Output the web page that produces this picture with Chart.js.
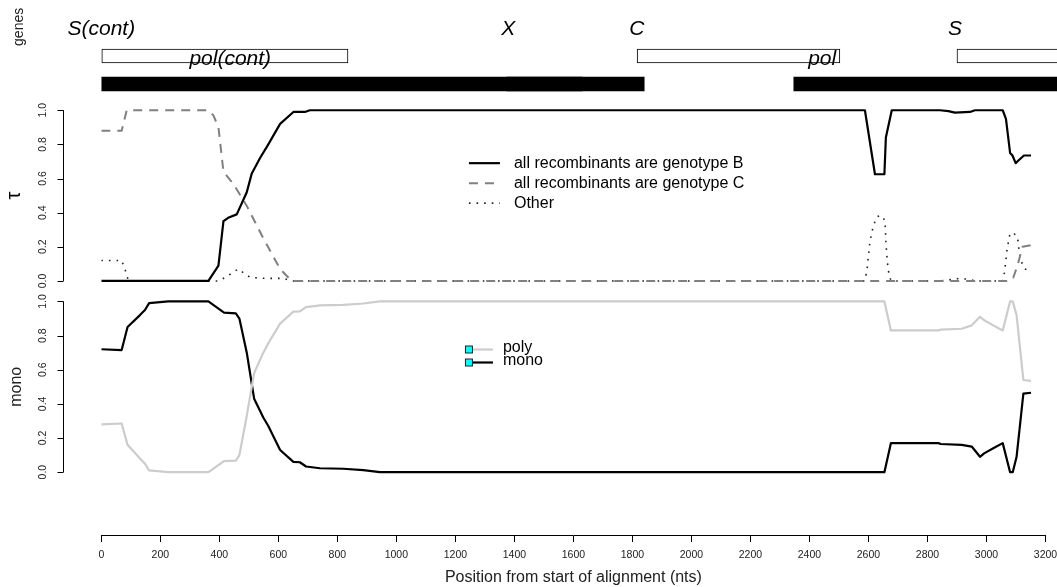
<!DOCTYPE html>
<html>
<head>
<meta charset="utf-8">
<script src="https://cdn.jsdelivr.net/npm/chart.js@4.4.1/dist/chart.umd.min.js"></script>
<style>
  html, body { margin: 0; padding: 0; background: #fff; }
  canvas { display: block; }
</style>
</head>
<body>
<canvas id="recombChart" width="1057" height="587"></canvas>
<script>
// axis ticks
const xTicks = [0, 200, 400, 600, 800, 1000, 1200, 1400, 1600, 1800, 2000, 2200, 2400, 2600, 2800, 3000, 3200];
const yTicks = [0, 0.2, 0.4, 0.6, 0.8, 1.0];

// tau panel: posterior for each recombinant class
const posB = [0, 363, 397, 414, 430, 459, 493, 510, 538, 566, 606, 651, 690, 707, 2588, 2622, 2654, 2659, 2679, 2842, 2871, 2893, 2944, 2961, 3055, 3066, 3080, 3088, 3099, 3111, 3127, 3151];
const tauB = [0, 0, 0.09, 0.35, 0.37, 0.39, 0.52, 0.63, 0.72, 0.80, 0.92, 0.99, 0.99, 1.0, 1.0, 0.625, 0.625, 0.84, 1.0, 1.0, 0.995, 0.986, 0.99, 1.0, 1.0, 0.95, 0.75, 0.735, 0.69, 0.71, 0.735, 0.735];

const posC = [0, 69, 86, 363, 380, 397, 414, 447, 493, 549, 606, 645, 3080, 3091, 3105, 3122, 3151];
const tauC = [0.88, 0.88, 1.0, 1.0, 0.97, 0.90, 0.64, 0.57, 0.44, 0.25, 0.07, 0, 0, 0.02, 0.09, 0.20, 0.21];

const posO = [0, 69, 84, 92, 363, 397, 420, 464, 505, 560, 617, 645, 2588, 2596, 2605, 2616, 2628, 2641, 2656, 2659, 2664, 2671, 2679, 2842, 2871, 2893, 2944, 2961, 3055, 3061, 3070, 3080, 3091, 3105, 3111, 3119, 3130, 3151];
const tauO = [0.12, 0.12, 0.05, 0, 0, 0, 0.02, 0.07, 0.02, 0.015, 0.015, 0, 0, 0.08, 0.23, 0.32, 0.375, 0.385, 0.355, 0.23, 0.11, 0.02, 0, 0, 0.005, 0.014, 0.01, 0, 0, 0.05, 0.19, 0.28, 0.28, 0.26, 0.17, 0.11, 0.07, 0.06];

// mono / poly panel
const posM = [0, 69, 89, 131, 148, 162, 227, 363, 416, 456, 468, 493, 518, 549, 566, 606, 651, 673, 694, 741, 820, 888, 944, 2654, 2676, 2837, 2845, 2916, 2950, 2978, 2992, 3023, 3055, 3080, 3089, 3102, 3125, 3151];
const mono = [0.72, 0.715, 0.85, 0.92, 0.95, 0.99, 1.0, 1.0, 0.935, 0.93, 0.90, 0.70, 0.43, 0.32, 0.27, 0.13, 0.06, 0.058, 0.033, 0.023, 0.02, 0.012, 0, 0, 0.17, 0.17, 0.165, 0.16, 0.15, 0.09, 0.11, 0.14, 0.17, 0, 0, 0.09, 0.46, 0.465];
const poly = [0.28, 0.285, 0.16, 0.08, 0.05, 0.01, 0, 0, 0.065, 0.068, 0.10, 0.33, 0.58, 0.70, 0.755, 0.87, 0.94, 0.942, 0.967, 0.977, 0.98, 0.988, 1.0, 1.0, 0.83, 0.83, 0.835, 0.84, 0.86, 0.91, 0.89, 0.86, 0.83, 1.0, 1.0, 0.92, 0.54, 0.535];

// genes (nts)
const boxNames = ['S(cont)', 'C', 'S'];
const boxStart = [0, 1816, 2900];
const boxEnd = [836, 2503, 3300];
const barNames = ['pol(cont)', 'X', 'pol'];
const barStart = [0, 1374, 2347];
const barEnd = [1840, 1630, 3300];
const upperLabels = ['S(cont)', 'X', 'C', 'S'];
const upperLabelPos = [0, 1379, 1815, 2893];
const lowerLabels = ['pol(cont)', 'pol'];
const lowerLabelPos = [437, 2443];

const tauNames = ['all recombinants are genotype B', 'all recombinants are genotype C', 'Other'];
const monoNames = ['poly', 'mono'];

const FONT = '"Liberation Sans", Arial, Helvetica, sans-serif';
Chart.defaults.font.family = FONT;
Chart.defaults.color = '#000';

const AXIS_W = 101.3;
const pts = (xs, ys) => xs.map((v, i) => ({ x: v, y: ys[i] }));

// R style y axes: line from 0 to 1 drawn left of the plot region
const rAxes = {
  id: 'rAxes',
  afterDraw(chart) {
    const { ctx, scales } = chart;
    const ax = Math.round(scales.x.getPixelForValue(-130)) + 0.5;
    ctx.save();
    ctx.strokeStyle = '#000';
    ctx.lineWidth = 1;
    ['yTau', 'yMono'].forEach(id => {
      const s = scales[id];
      ctx.beginPath();
      ctx.moveTo(ax, s.getPixelForValue(yTicks[0]));
      ctx.lineTo(ax, s.getPixelForValue(yTicks[yTicks.length - 1]));
      yTicks.forEach(v => {
        const p = Math.round(s.getPixelForValue(v)) + 0.5;
        ctx.moveTo(ax - 6, p);
        ctx.lineTo(ax, p);
      });
      ctx.stroke();
    });
    ctx.restore();
  }
};

const annotations = {
  id: 'annotations',
  afterDatasetsDraw(chart) {
    const { ctx, scales: { x, yGenes, yTau, yMono } } = chart;
    const ds = chart.data.datasets;
    ctx.save();

    // gene names
    ctx.fillStyle = '#000';
    ctx.font = 'italic 21px ' + FONT;
    ctx.textAlign = 'center';
    ctx.textBaseline = 'middle';
    upperLabels.forEach((t, i) => ctx.fillText(t, x.getPixelForValue(upperLabelPos[i]), yGenes.getPixelForValue(2.95)));
    lowerLabels.forEach((t, i) => ctx.fillText(t, x.getPixelForValue(lowerLabelPos[i]), yGenes.getPixelForValue(1.9)));

    // tau legend
    ctx.font = '16px ' + FONT;
    ctx.textAlign = 'left';
    const lx = x.getPixelForValue(1246);
    const ty = yTau.getPixelForValue(0.69);
    tauNames.forEach((name, i) => {
      const d = ds[i];
      const y = ty + i * 20;
      ctx.strokeStyle = d.borderColor;
      ctx.lineWidth = d.borderWidth;
      ctx.setLineDash(d.borderDash || []);
      ctx.beginPath();
      ctx.moveTo(lx, y);
      ctx.lineTo(lx + 31, y);
      ctx.stroke();
      ctx.setLineDash([]);
      ctx.fillText(name, lx + 45, y);
    });

    // mono legend
    const my = yMono.getPixelForValue(0.723);
    monoNames.forEach((name, i) => {
      const d = ds[3 + i];
      const y = Math.round(my + i * 13) + 0.5;
      ctx.strokeStyle = d.borderColor;
      ctx.lineWidth = d.borderWidth;
      ctx.beginPath();
      ctx.moveTo(lx, y);
      ctx.lineTo(lx + 24, y);
      ctx.stroke();
      ctx.fillStyle = '#00ffff';
      ctx.strokeStyle = '#222';
      ctx.lineWidth = 1;
      ctx.fillRect(lx - 3.5, y - 3.5, 7, 7);
      ctx.strokeRect(lx - 3.5, y - 3.5, 7, 7);
      ctx.fillStyle = '#000';
      ctx.fillText(name, lx + 34, y - 1.5);
    });
    ctx.restore();
  }
};

const fitLeft = s => {
  s.width = AXIS_W;
  s.paddingTop = 0;
  s.paddingBottom = 0;
};

const hiddenY = (extra) => Object.assign({
  type: 'linear',
  position: 'left',
  stack: 'panels',
  offset: false,
  afterFit: fitLeft,
  grid: { display: false, drawTicks: false },
  border: { display: false },
  ticks: { display: false }
}, extra);

const panelY = (extra) => hiddenY(Object.assign({
  min: -0.06,
  max: 1.06,
  afterBuildTicks: s => { s.ticks = yTicks.map(v => ({ value: v })); },
  ticks: {
    display: true, minRotation: 90, maxRotation: 90, crossAlign: 'center',
    padding: 51, font: { size: 10.5 }, color: '#222',
    callback: v => v.toFixed(1)
  }
}, extra));

new Chart(document.getElementById('recombChart'), {
  type: 'line',
  data: {
    datasets: [
      { label: tauNames[0], data: pts(posB, tauB), yAxisID: 'yTau', borderColor: '#000', borderWidth: 2.2 },
      { label: tauNames[1], data: pts(posC, tauC), yAxisID: 'yTau', borderColor: '#808080', borderWidth: 2, borderDash: [9, 7] },
      { label: tauNames[2], data: pts(posO, tauO), yAxisID: 'yTau', borderColor: '#222', borderWidth: 1.6, borderDash: [1.6, 6] },
      { label: monoNames[0], data: pts(posM, poly), yAxisID: 'yMono', borderColor: '#cccccc', borderWidth: 2.2 },
      { label: monoNames[1], data: pts(posM, mono), yAxisID: 'yMono', borderColor: '#000', borderWidth: 2.2 },
      {
        type: 'bar', label: 'boxes', indexAxis: 'y', yAxisID: 'yGenes',
        data: boxStart.map((s, i) => ({ x: [s, boxEnd[i]], y: 2 })),
        backgroundColor: '#fff', borderColor: '#000', borderWidth: 1,
        barThickness: 14, grouped: false, borderSkipped: false, clip: false
      },
      {
        type: 'bar', label: 'bars', indexAxis: 'y', yAxisID: 'yGenes',
        data: barStart.map((s, i) => ({ x: [s, barEnd[i]], y: 1 })),
        backgroundColor: '#000', borderWidth: 0,
        barThickness: 14, grouped: false, borderSkipped: false, clip: false
      }
    ]
  },
  options: {
    responsive: false,
    animation: false,
    devicePixelRatio: 1,
    layout: { padding: { left: 0, right: 11.5, top: 0, bottom: 0 } },
    elements: {
      point: { radius: 0 },
      line: { tension: 0, fill: false, borderJoinStyle: 'round' }
    },
    plugins: { legend: { display: false }, tooltip: { enabled: false } },
    scales: {
      x: {
        type: 'linear', min: 0, max: 3200, offset: false,
        afterBuildTicks: s => { s.ticks = xTicks.map(v => ({ value: v })); },
        afterFit: s => { s.height = 52; s.paddingLeft = 0; s.paddingRight = 0; },
        grid: { drawOnChartArea: false, offset: false, tickLength: 7, tickColor: '#000' },
        border: { display: true, color: '#000', width: 1 },
        ticks: { font: { size: 10.5 }, color: '#222', padding: 7, maxRotation: 0, autoSkip: false, callback: v => String(v) },
        title: { display: true, text: 'Position from start of alignment (nts)', font: { size: 16 }, color: '#222', padding: { top: 0, bottom: 0 } }
      },
      yGenes: hiddenY({
        weight: 4, stackWeight: 100, min: 0.4286, max: 4,
        title: { display: true, text: 'genes  ', align: 'end', font: { size: 14 }, color: '#222', padding: { top: 10.6, bottom: 0 } }
      }),
      yTau: panelY({
        weight: 3, stackWeight: 191.2,
        title: { display: true, text: 'τ', font: { size: 20 }, padding: { top: 2.5, bottom: 0 } }
      }),
      yMono: panelY({
        weight: 2, stackWeight: 191.2,
        title: { display: true, text: 'mono', font: { size: 16 }, color: '#222', padding: { top: 7.3, bottom: 0 } }
      }),
      yGap: hiddenY({ weight: 1, stackWeight: 52.6, min: 0, max: 1 })
    }
  },
  plugins: [rAxes, annotations]
});
</script>
</body>
</html>
